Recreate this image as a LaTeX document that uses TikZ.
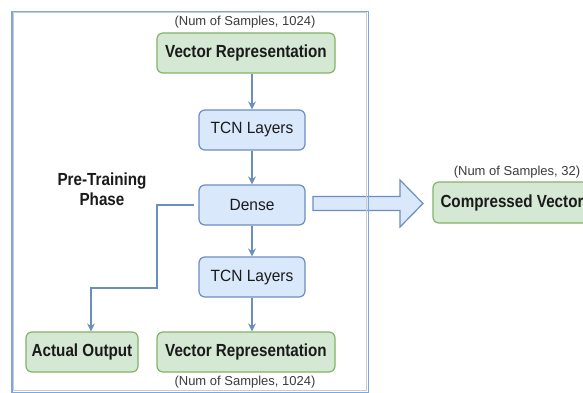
\documentclass[tikz,border=0pt]{standalone}
\usepackage{fontspec}
\setmainfont{Liberation Sans}
\newfontfamily\cndbold{Liberation Sans Bold}[FakeStretch=0.87]
\newfontfamily\cndreg{Liberation Sans}[FakeStretch=0.95]
\usetikzlibrary{arrows.meta}
\definecolor{gfill}{HTML}{D5E8D4}
\definecolor{gdraw}{HTML}{82B366}
\definecolor{bfill}{HTML}{DAE8FC}
\definecolor{bdraw}{HTML}{6C8EBF}
\definecolor{frame}{HTML}{7EA6E0}
\definecolor{txt}{HTML}{1A1A1A}
\begin{document}
\begin{tikzpicture}[x=1pt,y=-1pt,
  box/.style={rounded corners=6pt, line width=1.2pt, inner sep=0pt, align=center, text=txt},
  gbox/.style={box, fill=gfill, draw=gdraw, font=\cndbold\fontsize{17.5}{20}\selectfont},
  bbox/.style={box, fill=bfill, draw=bdraw, font=\cndreg\fontsize{16.3}{19}\selectfont, minimum width=106pt, minimum height=40pt},
  lbl/.style={text=txt!85, font=\fontsize{13}{15}\selectfont, inner sep=0pt},
  arr/.style={draw=bdraw, line width=1.2pt, -{Stealth[length=8pt,width=8pt]}}]
\useasboundingbox (0,0) rectangle (583,393);
\clip (0,0) rectangle (583,393);
\fill[white] (0,0) rectangle (583,393);

% nodes
\node[gbox, minimum width=178pt, minimum height=40pt] (vr1) at (246,53) {Vector Representation};
\node[bbox] (tcn1) at (252,130) {TCN Layers};
\node[bbox] (dense) at (252,205) {Dense};
\node[bbox] (tcn2) at (252,277) {TCN Layers};
\node[gbox, minimum width=178pt, minimum height=40pt] (vr2) at (246,352) {Vector Representation};
\node[gbox, minimum width=112pt, minimum height=40pt] (actual) at (82,352) {Actual Output};
\node[gbox, minimum width=158pt, minimum height=41pt] (comp) at (512,202.5) {Compressed Vector};

\node[lbl] (l1) at (245,22) {(Num of Samples, 1024)};
\node[lbl] (l2) at (245,382) {(Num of Samples, 1024)};
\node[lbl] (l3) at (517,172) {(Num of Samples, 32)};
\node[text=txt, font=\cndbold\fontsize{17.5}{20}\selectfont, align=center, inner sep=0pt] (phase) at (102,189) {Pre-Training\\Phase};

% connectors
\draw[arr] (vr1.south -| tcn1) -- (tcn1.north);
\draw[arr] (tcn1) -- (dense);
\draw[arr] (dense) -- (tcn2);
\draw[arr] (tcn2.south) -- (tcn2.south |- vr2.north);
\coordinate (b1) at (157,288);
\coordinate (b2) at (91,288);
\draw[arr] ([xshift=-4pt]dense.west) -| (b1) -- (b2) -- (b2 |- actual.north);

% big hollow arrow (from Dense towards Compressed Vector)
\draw[fill=bfill, draw=bdraw, line width=1.2pt, line join=miter]
  (313,196.5) -- (400,196.5) -- (400,180) -- (423,203.5) -- (400,227) -- (400,210.5) -- (313,210.5) -- cycle;

% outer frame
\draw[gray!40, line width=0.8pt] (13.6,12.6) rectangle (366.6,390.8);
\draw[frame, line width=1.2pt] (12,11.2) rectangle (368.2,392.2);
\end{tikzpicture}
\end{document}
